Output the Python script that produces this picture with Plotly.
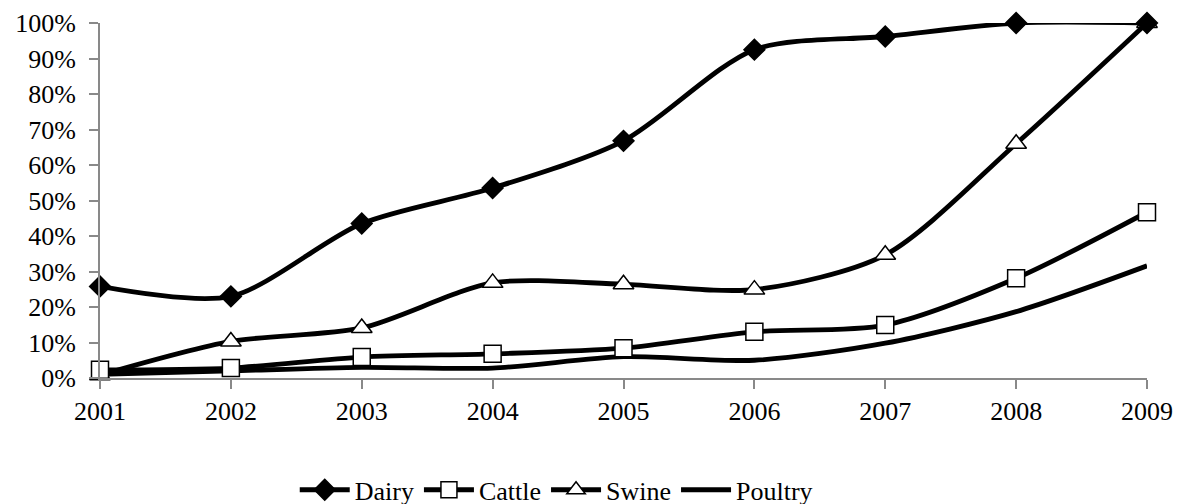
import plotly.graph_objects as go

years = [2001, 2002, 2003, 2004, 2005, 2006, 2007, 2008, 2009]
dairy = [0.258, 0.230, 0.435, 0.535, 0.668, 0.925, 0.962, 1.0, 1.0]
cattle = [0.023, 0.028, 0.059, 0.068, 0.084, 0.130, 0.149, 0.281, 0.467]
swine = [0.008, 0.103, 0.141, 0.268, 0.264, 0.249, 0.347, 0.660, 1.0]
poultry = [0.010, 0.020, 0.030, 0.028, 0.060, 0.050, 0.098, 0.187, 0.316]
ytick_vals = [i / 10 for i in range(11)]
ytick_text = [f"{i*10}%" for i in range(11)]

FONT = "Liberation Serif"

fig = go.Figure()

def add(name, y, symbol, fill, size, rank):
    mode = "lines+markers" if symbol else "lines"
    marker = dict(symbol=symbol, size=size, color=fill,
                  line=dict(color="black", width=1.5)) if symbol else None
    fig.add_trace(go.Scatter(
        x=years, y=y, name=name, mode=mode, legendrank=rank,
        line=dict(color="black", width=4.8, shape="spline", smoothing=0.8),
        marker=marker, cliponaxis=False,
    ))

# drawn bottom-to-top; legend order by rank
add("Poultry", poultry, None, None, 0, 4)
add("Swine", swine, "triangle-up", "white", 18, 3)
add("Cattle", cattle, "square", "white", 17, 2)
add("Dairy", dairy, "diamond", "black", 16, 1)

fig.update_layout(
    width=1177, height=530,
    margin=dict(l=100, r=30, t=23, b=152),
    paper_bgcolor="white", plot_bgcolor="white",
    font=dict(family=FONT, size=26, color="black"),
    showlegend=True,
    legend=dict(orientation="h", x=0.186, xanchor="left", y=-0.315, yanchor="middle",
                font=dict(family=FONT, size=26), itemwidth=50,
                tracegroupgap=0),
)
fig.update_xaxes(
    range=[2001, 2009], tickvals=years, ticktext=[str(y) for y in years],
    showline=True, linecolor="#898989", linewidth=2,
    ticks="outside", ticklen=9, tickcolor="#898989", tickwidth=2,
    showgrid=False, zeroline=False, automargin=False, ticklabelstandoff=0,
)
fig.update_yaxes(
    range=[0, 1], tickvals=ytick_vals, ticktext=ytick_text,
    showline=True, linecolor="#898989", linewidth=2,
    ticks="outside", ticklen=9, tickcolor="#898989", tickwidth=2,
    showgrid=False, zeroline=False, automargin=False, ticklabelstandoff=8,
)

fig.write_html(
    "out.html",
    config={"displayModeBar": False},
    post_script="document.body.style.margin='0';document.body.style.overflow='hidden';"
                "document.documentElement.style.overflow='hidden';",
)
